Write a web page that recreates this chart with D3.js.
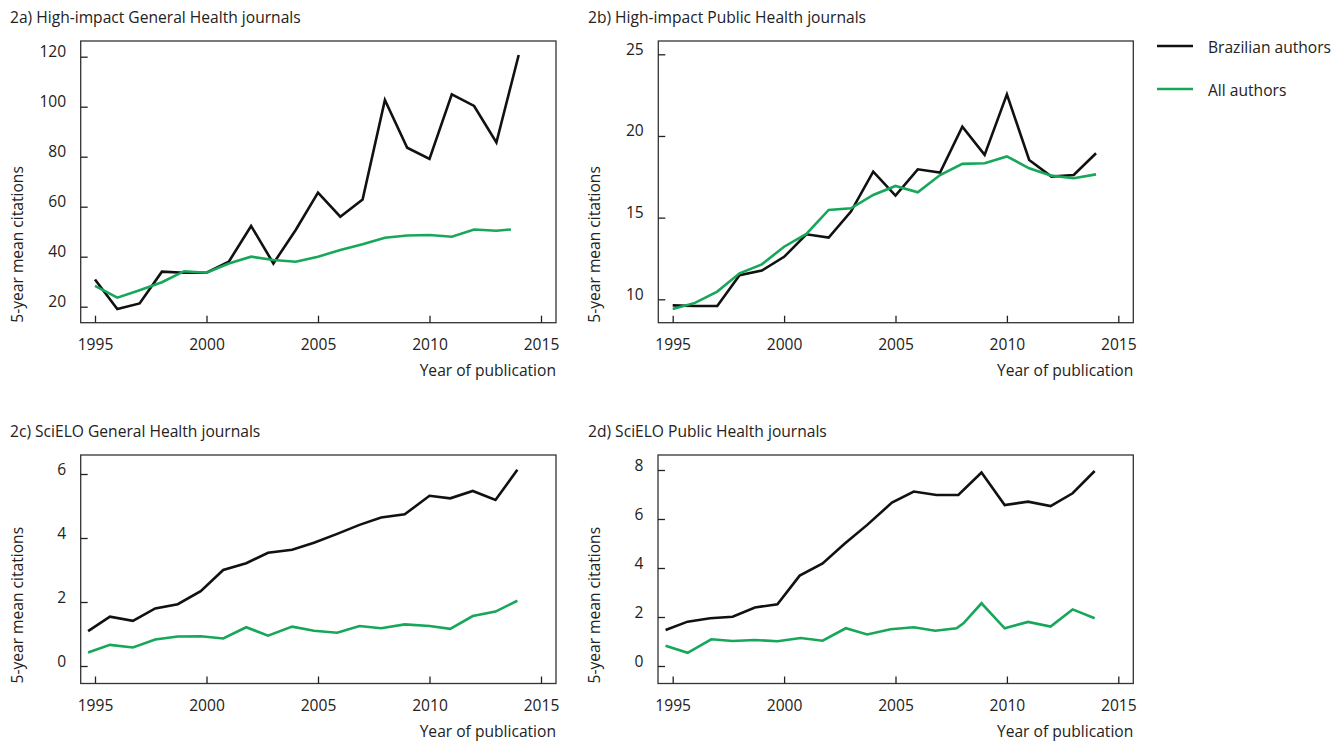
<!DOCTYPE html>
<html>
<head>
<meta charset="utf-8">
<script src="https://cdn.jsdelivr.net/npm/d3@7"></script>
<style>
  body { margin: 0; background: #fff; }
  svg { font-family: "Open Sans", "Noto Sans", sans-serif; }
</style>
</head>
<body>
<svg id="chart" width="1344" height="741"></svg>
<script>
// 2a) High-impact General Health journals
const yearsA = [1995, 1996, 1997, 1998, 1999, 2000, 2001, 2002, 2003, 2004,
  2005, 2006, 2007, 2008, 2009, 2010, 2011, 2012, 2013, 2014];
const brazilA = [30.9, 19.1, 21.3, 34.0, 33.6, 33.6, 38.0, 52.3, 37.3, 50.7,
  65.6, 56.0, 62.9, 102.7, 83.6, 79.1, 104.9, 100.3, 85.7, 120.7];
const yearsAllA = [1995, 1996, 1997, 1998, 1999, 2000, 2001, 2002, 2003, 2004,
  2005, 2006, 2007, 2008, 2009, 2010, 2011, 2012, 2013, 2013.65];
const allA = [28.3, 23.6, 26.6, 29.8, 34.2, 33.6, 37.3, 40.0, 38.7, 38.0,
  40.0, 42.7, 45.0, 47.6, 48.5, 48.7, 48.0, 50.9, 50.4, 50.9];

// 2b) High-impact Public Health journals
const yearsB = yearsA;
const brazilB = [9.63, 9.59, 9.59, 11.47, 11.76, 12.6, 13.98, 13.78, 15.37, 17.82,
  16.35, 17.96, 17.76, 20.57, 18.84, 22.55, 18.53, 17.51, 17.61, 18.94];
const allB = [9.41, 9.78, 10.47, 11.59, 12.14, 13.22, 14.0, 15.47, 15.57, 16.39,
  16.94, 16.55, 17.61, 18.29, 18.33, 18.75, 18.02, 17.57, 17.41, 17.65];

// 2c) SciELO General Health journals
const yearsC = [1994.69, 1995.67, 1996.7, 1997.7, 1998.71, 1999.74, 2000.75, 2001.78, 2002.76, 2003.84,
  2004.82, 2005.86, 2006.86, 2007.83, 2008.89, 2010.0, 2010.93, 2011.94, 2012.96, 2013.94];
const brazilC = [1.09, 1.54, 1.41, 1.80, 1.93, 2.34, 3.0, 3.21, 3.54, 3.63,
  3.85, 4.13, 4.41, 4.64, 4.74, 5.32, 5.24, 5.47, 5.19, 6.13];
const allC = [0.42, 0.66, 0.58, 0.83, 0.92, 0.93, 0.86, 1.21, 0.95, 1.23,
  1.10, 1.04, 1.25, 1.18, 1.30, 1.25, 1.16, 1.56, 1.70, 2.04];

// 2d) SciELO Public Health journals
const yearsD = [1994.68, 1995.67, 1996.68, 1997.69, 1998.69, 1999.7, 2000.7, 2001.73, 2002.7, 2003.73,
  2004.84, 2005.82, 2006.84, 2007.82, 2008.86, 2009.9, 2010.95, 2011.96, 2012.95, 2013.94];
const brazilD = [1.47, 1.81, 1.95, 2.01, 2.39, 2.52, 3.69, 4.19, 4.98, 5.76,
  6.67, 7.12, 6.98, 6.98, 7.90, 6.57, 6.71, 6.53, 7.05, 7.96];
const yearsAllD = [1994.68, 1995.67, 1996.73, 1997.69, 1998.69, 1999.7, 2000.74, 2001.73, 2002.77, 2003.73,
  2004.78, 2005.82, 2006.78, 2007.74, 2008.05, 2008.86, 2009.9, 2010.95, 2011.96, 2012.95, 2013.94];
const allD = [0.83, 0.54, 1.09, 1.02, 1.06, 1.01, 1.14, 1.03, 1.54, 1.29,
  1.50, 1.58, 1.44, 1.54, 1.74, 2.56, 1.54, 1.80, 1.61, 2.31, 1.95];

const xTicks = [1995, 2000, 2005, 2010, 2015];
const seriesNames = ["Brazilian authors", "All authors"];

const BLACK = "#111";
const GREEN = "#17a75a";
const FS = "15.6px";

const svg = d3.select("#chart");

const panels = [
  { title: "2a) High-impact General Health journals", titleX: 10, titleY: 23,
    box: [80.7, 41, 556, 322.7], xr: [95, 541], yd: [20, 120], yr: [306.7, 56.7],
    yTicks: [20, 40, 60, 80, 100, 120],
    black: [yearsA, brazilA], green: [yearsAllA, allA] },
  { title: "2b) High-impact Public Health journals", titleX: 588, titleY: 23,
    box: [658.3, 41, 1133.3, 322.7], xr: [672.7, 1118.3], yd: [10, 25], yr: [299.3, 54.3],
    yTicks: [10, 15, 20, 25],
    black: [yearsB, brazilB], green: [yearsB, allB] },
  { title: "2c) SciELO General Health journals", titleX: 10, titleY: 437,
    box: [80.7, 455, 556, 683.5], xr: [95, 541], yd: [0, 6], yr: [666, 474],
    yTicks: [0, 2, 4, 6],
    black: [yearsC, brazilC], green: [yearsC, allC] },
  { title: "2d) SciELO Public Health journals", titleX: 588, titleY: 437,
    box: [658, 455, 1133.3, 683.5], xr: [672.7, 1118.3], yd: [0, 8], yr: [666, 470],
    yTicks: [0, 2, 4, 6, 8],
    black: [yearsD, brazilD], green: [yearsAllD, allD] }
];

panels.forEach(p => {
  const [x0, y0, x1, y1] = p.box;
  const x = d3.scaleLinear().domain([1995, 2015]).range(p.xr);
  const y = d3.scaleLinear().domain(p.yd).range(p.yr);
  const g = svg.append("g");

  g.append("text")
    .attr("x", p.titleX).attr("y", p.titleY)
    .attr("font-size", FS).attr("fill", "#222")
    .text(p.title);

  g.append("rect")
    .attr("x", x0).attr("y", y0)
    .attr("width", x1 - x0).attr("height", y1 - y0)
    .attr("fill", "none").attr("stroke", "#333").attr("stroke-width", 1.3);

  const xAxis = g.append("g")
    .attr("transform", `translate(0,${y1})`)
    .call(d3.axisBottom(x).tickValues(xTicks).tickFormat(d3.format("d"))
      .tickSizeInner(-7).tickSizeOuter(0).tickPadding(16));
  xAxis.select(".domain").remove();

  const yAxis = g.append("g")
    .attr("transform", `translate(${x0},0)`)
    .call(d3.axisLeft(y).tickValues(p.yTicks).tickFormat(d3.format("d"))
      .tickSizeInner(-7).tickSizeOuter(0).tickPadding(14.5));
  yAxis.select(".domain").remove();

  [xAxis, yAxis].forEach(a => {
    a.selectAll("text").attr("font-size", FS).attr("fill", "#222")
      .attr("font-family", "\"Open Sans\", \"Noto Sans\", sans-serif");
    a.selectAll("line").attr("stroke", "#222").attr("stroke-width", 1.3);
  });
  yAxis.selectAll("text").attr("dy", "0");

  g.append("text")
    .attr("x", x1).attr("y", y1 + 53)
    .attr("text-anchor", "end")
    .attr("font-size", FS).attr("fill", "#222")
    .text("Year of publication");

  g.append("text")
    .attr("transform", `translate(${x0 - 58},${y1}) rotate(-90)`)
    .attr("font-size", FS).attr("fill", "#222")
    .text("5-year mean citations");

  const line = d3.line()
    .x(d => x(d[0]))
    .y(d => y(d[1]));

  [[p.black, BLACK], [p.green, GREEN]].forEach(([s, color]) => {
    const pts = s[0].map((yr, i) => [yr, s[1][i]]);
    g.append("path")
      .attr("d", line(pts))
      .attr("fill", "none")
      .attr("stroke", color)
      .attr("stroke-width", 2.6)
      .attr("stroke-linejoin", "miter");
  });
});

// legend
const legend = svg.append("g");
[BLACK, GREEN].forEach((color, i) => {
  const ly = 46 + i * 43;
  legend.append("line")
    .attr("x1", 1157).attr("x2", 1193)
    .attr("y1", ly).attr("y2", ly)
    .attr("stroke", color).attr("stroke-width", 2.5);
  legend.append("text")
    .attr("x", 1208).attr("y", ly + 7)
    .attr("font-size", FS).attr("fill", "#222")
    .text(seriesNames[i]);
});
</script>
</body>
</html>
